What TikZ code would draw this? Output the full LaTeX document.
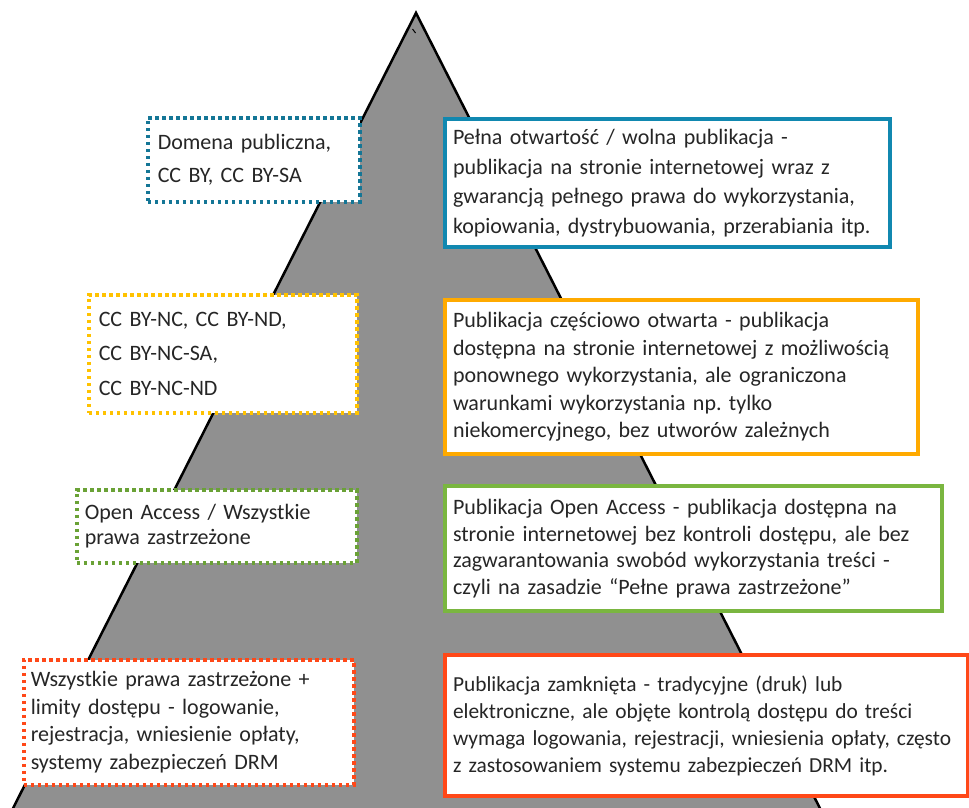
\documentclass[tikz,border=0pt]{standalone}
\usepackage{fontspec}
\setmainfont{Carlito}
\frenchspacing
\newcommand\pismo[1]{\fontsize{22}{#1}\selectfont}
\definecolor{szary}{RGB}{144,144,144}
\definecolor{morski}{RGB}{17,136,176}
\definecolor{morskiC}{RGB}{20,118,150}
\definecolor{pomar}{RGB}{255,170,0}
\definecolor{zolty}{RGB}{255,194,0}
\definecolor{zielony}{RGB}{122,182,64}
\definecolor{zielonyC}{RGB}{106,162,54}
\definecolor{czerw}{RGB}{255,72,24}
\tikzset{
  opis/.style={draw, line width=4pt, fill=white, anchor=north west, align=left,
    inner sep=0pt, text=black!85, font=\pismo{27.5}},
  licencja/.style={opis, line width=3.5pt, dash pattern=on 3.5pt off 3.5pt}
}

\begin{document}
\begin{tikzpicture}[x=1pt,y=-1pt]
            \clip (0,0) rectangle (969,808);
            % piramida
            \draw[fill=szary, line width=2.5pt] (416,13)--(831,830)--(2,830)--cycle;
            \draw[line width=1pt] (412.5,29)--(415.5,33);
            % opisy po prawej
            \node[opis, draw=morski, minimum width=445pt, minimum height=128pt, text width=429pt,
                font=\pismo{29.5}] (opis1) at (443,117)
                {Pełna otwartość / wolna publikacja -\\publikacja na stronie internetowej wraz z\\gwarancją pełnego prawa do wykorzystania,\\kopiowania, dystrybuowania, przerabiania itp.};
            \node[opis, draw=pomar, minimum width=473pt, minimum height=154pt, text width=457pt] (opis2) at (443,298)
                {Publikacja częściowo otwarta - publikacja\\dostępna na stronie internetowej z możliwością\\ponownego wykorzystania, ale ograniczona\\warunkami wykorzystania np. tylko\\niekomercyjnego, bez utworów zależnych};
            \node[opis, draw=zielony, minimum width=497pt, minimum height=125pt, text width=481pt,
                font=\pismo{26.5}] (opis3) at (443,484)
                {Publikacja Open Access - publikacja dostępna na\\stronie internetowej bez kontroli dostępu, ale bez\\zagwarantowania swobód wykorzystania treści -\\czyli na zasadzie ``Pełne prawa zastrzeżone''};
            \node[opis, draw=czerw, minimum width=523pt, minimum height=141pt, text width=507pt,
                font=\fontsize{21.4}{27}\selectfont] (opis4) at (443,653)
                {Publikacja zamknięta - tradycyjne (druk) lub\\elektroniczne, ale objęte kontrolą dostępu do treści\\\mbox{wymaga logowania, rejestracji, wniesienia opłaty, często}\\z zastosowaniem systemu zabezpieczeń DRM itp.};
            % licencje po lewej
            \node[licencja, draw=morskiC, minimum width=212pt, minimum height=84pt, text width=192pt,
                font=\pismo{33}] (lic1) at (146,116)
                {Domena publiczna,\\CC BY, CC BY-SA};
            \node[licencja, draw=zolty, minimum width=268pt, minimum height=118pt, text width=248pt,
                font=\pismo{34.5}] (lic2) at (87,293)
                {CC BY-NC, CC BY-ND,\\CC BY-NC-SA,\\CC BY-NC-ND};
            \node[licencja, draw=zielonyC, minimum width=280pt, minimum height=73pt, text width=264pt,
                font=\pismo{25}] (lic3) at (75,488)
                {Open Access / Wszystkie\\prawa zastrzeżone};
            \node[licencja, draw=czerw, minimum width=330pt, minimum height=125pt, text width=316pt] (lic4) at (22,658)
                {Wszystkie prawa zastrzeżone +\\limity dostępu - logowanie,\\rejestracja, wniesienie opłaty,\\systemy zabezpieczeń DRM};
        \end{tikzpicture}
\end{document}
